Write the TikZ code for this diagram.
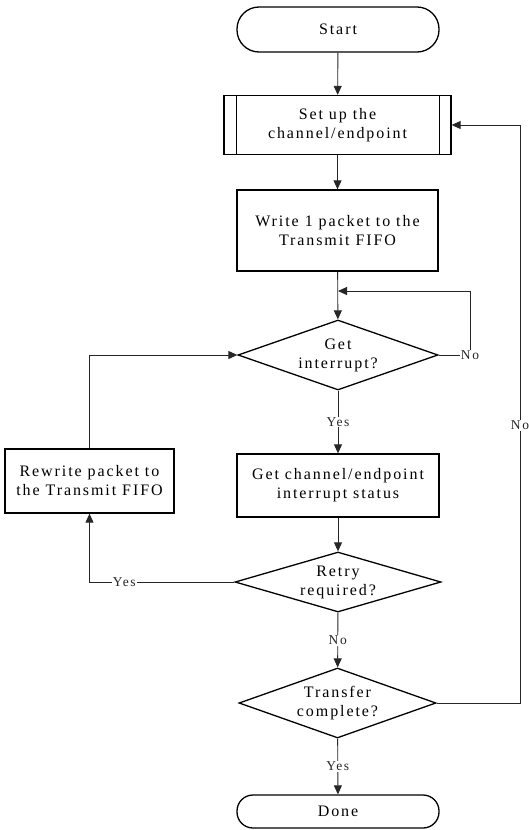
\documentclass[tikz,border=0pt]{standalone}
\usepackage{fontspec}
\setmainfont{Liberation Serif}[LetterSpace=12]
\usetikzlibrary{positioning,arrows.meta,shapes.geometric}

\begin{document}
\begin{tikzpicture}[x=1pt, y=-1pt,
    every node/.style={font=\fontsize{16}{19}\selectfont, align=center, inner sep=0pt},
    terminal/.style={draw, line width=1.3pt, rounded corners=16pt, minimum width=202pt},
    procbox/.style={draw, line width=1.3pt, rectangle},
    decision/.style={draw, line width=1.3pt, diamond, aspect=2.8},
    lbl/.style={font=\fontsize{13.5}{15}\selectfont, fill=white, inner sep=1pt},
    arr/.style={-{Triangle[length=9pt,width=8pt]}, line width=0.9pt, black!85}]
    \useasboundingbox (0,0) rectangle (528,830);

    \node (start)    [terminal, minimum height=45pt, rounded corners=22pt] at (338,29.5) {Start};
    \node (setup)    [procbox, minimum width=227pt, minimum height=59pt] at (337.5,125) {Set up the\\channel/endpoint};
    \draw[line width=1.3pt] ([xshift=13pt]setup.north west) -- ([xshift=13pt]setup.south west);
    \draw[line width=1.3pt] ([xshift=-12pt]setup.north east) -- ([xshift=-12pt]setup.south east);
    \node (write)    [procbox, minimum width=201pt, minimum height=81pt] at (337.5,230.5) {Write 1 packet to the\\Transmit FIFO};
    \node (getint)   [decision, minimum width=200pt, minimum height=70pt] at (338,355) {Get\\interrupt?};
    \node (status)   [procbox, minimum width=202pt, minimum height=63pt] at (338,485.5) {Get channel/endpoint\\interrupt status};
    \node (rewrite)  [procbox, minimum width=169pt, minimum height=64pt] at (89.5,481) {Rewrite packet to\\the Transmit FIFO};
    \node (retry)    [decision, minimum width=206pt, minimum height=60pt] at (338,582) {Retry\\required?};
    \node (transfer) [decision, minimum width=197pt, minimum height=70pt] at (337.5,703) {Transfer\\complete?};
    \node (done)     [terminal, minimum height=33pt] at (338,811.5) {Done};

    \coordinate (loopR) at (470,291);
    \coordinate (loopL) at (338,291);
    \coordinate (backR) at (520,125);

    \draw[arr] (start) -- (setup);
    \draw[arr] (setup) -- (write);
    \draw[arr] (write) -- (getint);
    \draw[arr] (getint.east) -| node[lbl, pos=0.5] {No} (loopR) -- (loopL);
    \draw[arr] (getint) -- node[lbl] {Yes} (status);
    \draw[arr] (status) -- (retry);
    \draw[arr] (retry.west) -| node[lbl, pos=0.38] {Yes} (rewrite.south);
    \draw[arr] (rewrite.north) |- (getint.west);
    \draw[arr] (retry) -- node[lbl] {No} (transfer);
    \draw[arr] (transfer) -- node[lbl] {Yes} (done);
    \draw[arr] (transfer.east) -| node[lbl, pos=0.74] {No} (backR) -- (setup.east);
  \end{tikzpicture}
\end{document}
